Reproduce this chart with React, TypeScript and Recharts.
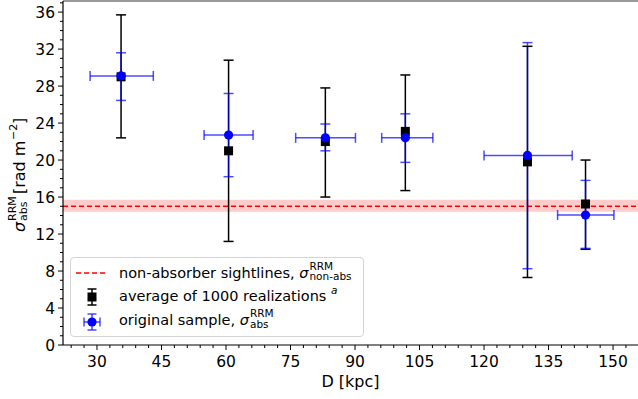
import React from "react";
import {
  ComposedChart,
  Scatter,
  ErrorBar,
  XAxis,
  YAxis,
  ReferenceLine,
  ReferenceArea,
} from "recharts";

// distance bins (kpc) and their horizontal extent
const distance = [35.6, 60.6, 83.1, 101.7, 130.1, 143.6];
const distLow = [28.4, 54.9, 76.2, 96.2, 120.0, 137.1];
const distHigh = [43.1, 66.3, 90.1, 108.1, 140.5, 150.2];

// average of 1000 realizations
const avgSigma = [29.0, 21.0, 22.0, 23.1, 19.8, 15.25];
const avgLow = [22.4, 11.2, 16.0, 16.7, 7.3, 10.35];
const avgHigh = [35.7, 30.8, 27.8, 29.2, 32.3, 20.0];

// original sample
const origSigma = [29.1, 22.7, 22.4, 22.4, 20.5, 14.05];
const origLow = [26.45, 18.2, 21.0, 19.75, 8.25, 10.45];
const origHigh = [31.6, 27.2, 23.9, 25.0, 32.7, 17.8];

// non-absorber sightlines level and its band
const nonAbs = 15.0;
const nonAbsLow = 14.4;
const nonAbsHigh = 15.7;

const xTicks = [24, 27, 30, 33, 36, 39, 42, 45, 48, 51, 54, 57, 60, 63, 66, 69, 72, 75, 78, 81, 84, 87, 90, 93, 96, 99, 102, 105, 108, 111, 114, 117, 120, 123, 126, 129, 132, 135, 138, 141, 144, 147, 150, 153];
const yTicks = [0, 1, 2, 3, 4, 5, 6, 7, 8, 9, 10, 11, 12, 13, 14, 15, 16, 17, 18, 19, 20, 21, 22, 23, 24, 25, 26, 27, 28, 29, 30, 31, 32, 33, 34, 35, 36, 37];

const FONT = "DejaVu Sans";

const avgData = distance.map((d, i) => ({
  x: d,
  y: avgSigma[i],
  yErr: [avgSigma[i] - avgLow[i], avgHigh[i] - avgSigma[i]],
}));

const origData = distance.map((d, i) => ({
  x: d,
  y: origSigma[i],
  xErr: [d - distLow[i], distHigh[i] - d],
  yErr: [origSigma[i] - origLow[i], origHigh[i] - origSigma[i]],
}));

const XTick = (props: any) => {
  const { x, y, payload } = props;
  const major = payload.value % 15 === 0;
  return (
    <g>
      <line x1={x} x2={x} y1={y} y2={y + (major ? 5 : 3)} stroke="#000" strokeWidth={1} />
      {major && (
        <text x={x} y={y + 22} textAnchor="middle" fontSize={15.5} fontFamily={FONT} fill="#000">
          {payload.value}
        </text>
      )}
    </g>
  );
};

const YTick = (props: any) => {
  const { x, y, payload } = props;
  const major = payload.value % 4 === 0;
  return (
    <g>
      <line x1={x} x2={x - (major ? 5 : 3)} y1={y} y2={y} stroke="#000" strokeWidth={1} />
      {major && (
        <text x={x - 8} y={y + 5.5} textAnchor="end" fontSize={15.5} fontFamily={FONT} fill="#000">
          {payload.value}
        </text>
      )}
    </g>
  );
};

const YLabel = () => (
  <g transform="translate(25,174) rotate(-90)" fontFamily={FONT} fill="#000">
    <text x={-58} y={0} fontSize={16} fontStyle="italic">σ</text>
    <text x={-47} y={-9} fontSize={11}>RRM</text>
    <text x={-47} y={2} fontSize={11}>abs</text>
    <text x={-20} y={0} fontSize={16}>[rad m</text>
    <text x={34} y={-8} fontSize={11}>−2</text>
    <text x={50} y={0} fontSize={16}>]</text>
  </g>
);

const Square = (props: any) => {
  const { cx, cy } = props;
  return <rect x={cx - 4.5} y={cy - 4.5} width={9} height={9} fill="#000" />;
};

const Dot = (props: any) => {
  const { cx, cy } = props;
  return <circle cx={cx} cy={cy} r={4.6} fill="#0000ff" />;
};

const SupSub = ({ sup, sub, width }: { sup: string; sub: string; width: number }) => (
  <span style={{ position: "relative", display: "inline-block", width, height: 0 }}>
    <span style={{ position: "absolute", left: 1, top: -18, fontSize: 10.5, lineHeight: "12px", whiteSpace: "nowrap" }}>
      {sup}
    </span>
    <span style={{ position: "absolute", left: 1, top: -7.5, fontSize: 10.5, lineHeight: "12px", whiteSpace: "nowrap" }}>
      {sub}
    </span>
  </span>
);

const rowStyle = (top: number): React.CSSProperties => ({
  position: "absolute",
  left: 48,
  top,
  lineHeight: "17px",
  whiteSpace: "nowrap",
});

const Legend = () => (
  <div
    style={{
      position: "absolute",
      left: 70,
      top: 257,
      width: 294,
      height: 80,
      border: "1px solid #d5d5d5",
      borderRadius: 4,
      background: "rgba(255,255,255,0.85)",
      fontFamily: FONT,
      fontSize: 14.5,
      color: "#000",
      boxSizing: "border-box",
    }}
  >
    <svg width={46} height={78} style={{ position: "absolute", left: 0, top: 0 }}>
      <line x1={5} x2={37} y1={15} y2={15} stroke="#ff0000" strokeWidth={1.5} strokeDasharray="5 3" />
      <g stroke="#000" strokeWidth={1.5}>
        <line x1={21} x2={21} y1={31} y2={47} />
        <line x1={16.5} x2={25.5} y1={31} y2={31} />
        <line x1={16.5} x2={25.5} y1={47} y2={47} />
      </g>
      <rect x={16.5} y={34.5} width={9} height={9} fill="#000" />
      <g stroke="#0000ff" strokeOpacity={0.7} strokeWidth={1.5}>
        <line x1={21} x2={21} y1={56} y2={72} />
        <line x1={16.5} x2={25.5} y1={56} y2={56} />
        <line x1={16.5} x2={25.5} y1={72} y2={72} />
        <line x1={13} x2={29} y1={64} y2={64} />
        <line x1={13} x2={13} y1={59.5} y2={68.5} />
        <line x1={29} x2={29} y1={59.5} y2={68.5} />
      </g>
      <circle cx={21} cy={64} r={4.6} fill="#0000ff" />
    </svg>
    <div style={rowStyle(6.5)}>
      non-absorber sightlines, <i>σ</i>
      <SupSub sup="RRM" sub="non-abs" width={42} />
    </div>
    <div style={rowStyle(29.5)}>
      average of 1000 realizations{" "}
      <i style={{ fontSize: 10.5, position: "relative", top: -7 }}>a</i>
    </div>
    <div style={rowStyle(54)}>
      original sample, <i>σ</i>
      <SupSub sup="RRM" sub="abs" width={20} />
    </div>
  </div>
);

const App: React.FC = () => {
  return (
    <div style={{ position: "absolute", left: 0, top: 0, width: 638, height: 399, background: "#fff" }}>
      <ComposedChart width={638} height={399} margin={{ top: 1, right: 0, bottom: 4, left: 8 }}>
        <XAxis
          type="number"
          dataKey="x"
          domain={[22.1, 155.8]}
          ticks={xTicks}
          interval={0}
          tick={<XTick />}
          tickLine={false}
          tickSize={0}
          tickMargin={0}
          height={50}
          axisLine={{ stroke: "#000", strokeWidth: 1.2 }}
          allowDataOverflow
        />
        <YAxis
          type="number"
          dataKey="y"
          domain={[0, 37.2]}
          ticks={yTicks}
          interval={0}
          tick={<YTick />}
          tickLine={false}
          tickSize={0}
          tickMargin={0}
          width={55}
          axisLine={{ stroke: "#000", strokeWidth: 1.2 }}
          allowDataOverflow
        />
        <ReferenceArea y1={nonAbsLow} y2={nonAbsHigh} fill="#ff0000" fillOpacity={0.2} stroke="none" />
        <ReferenceLine y={nonAbs} stroke="#ff0000" strokeWidth={1.5} strokeDasharray="5 3" />
        <ReferenceLine y={37.2} stroke="#777" strokeWidth={1.5} ifOverflow="visible" />
        <Scatter data={avgData} shape={<Square />} isAnimationActive={false}>
          <ErrorBar dataKey="yErr" direction="y" width={5} stroke="#000" strokeWidth={1.5} />
        </Scatter>
        <Scatter data={origData} shape={<Dot />} isAnimationActive={false}>
          <ErrorBar dataKey="yErr" direction="y" width={5} stroke="#0000ff" strokeOpacity={0.7} strokeWidth={1.5} />
          <ErrorBar dataKey="xErr" direction="x" width={5} stroke="#0000ff" strokeOpacity={0.7} strokeWidth={1.5} />
        </Scatter>
      </ComposedChart>
      <svg width={60} height={399} style={{ position: "absolute", left: 0, top: 0 }}>
        <YLabel />
      </svg>
      <div
        style={{
          position: "absolute",
          left: 0,
          width: 638,
          top: 372,
          textAlign: "center",
          paddingLeft: 63,
          boxSizing: "border-box",
          fontFamily: FONT,
          fontSize: 16,
        }}
      >
        D [kpc]
      </div>
      <Legend />
    </div>
  );
};

export default App;
